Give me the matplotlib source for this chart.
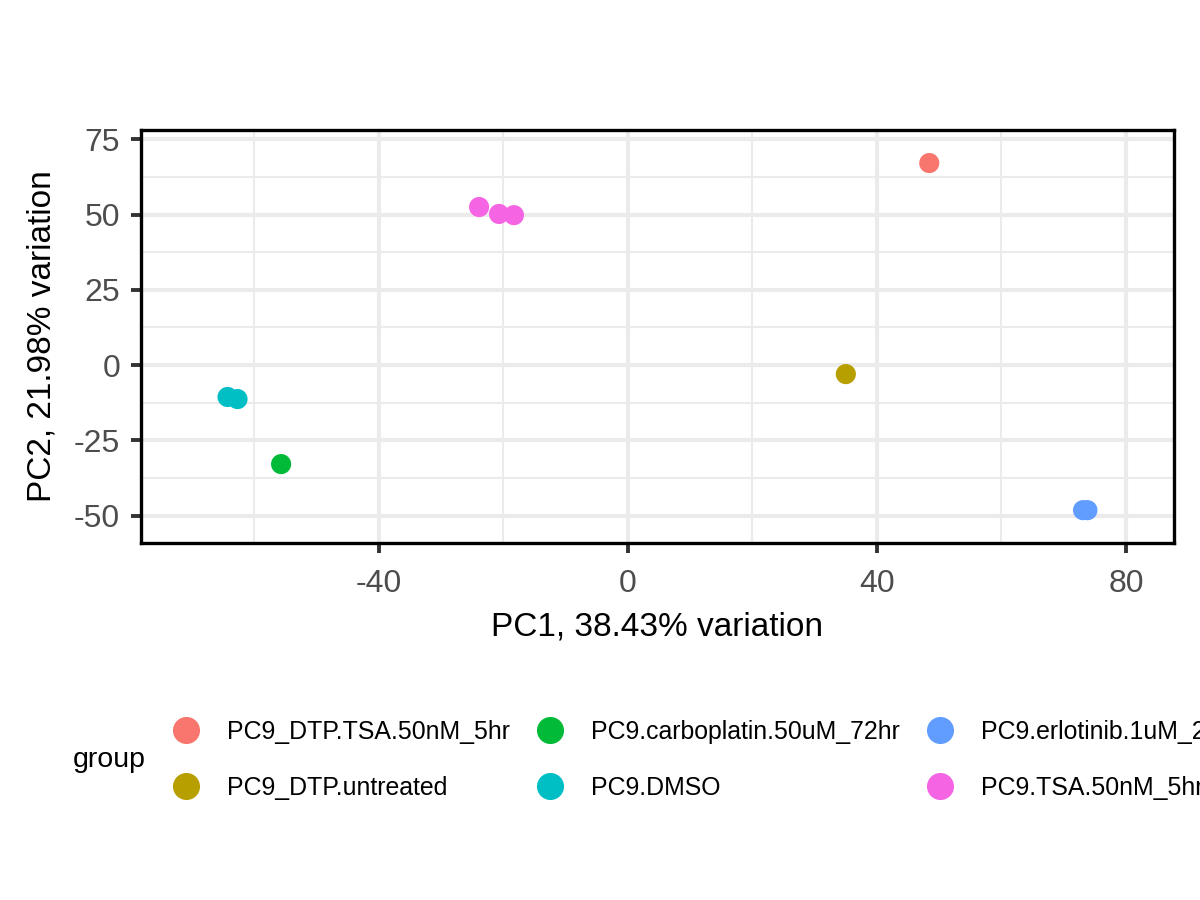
import matplotlib
matplotlib.use("Agg")
import matplotlib.pyplot as plt
from matplotlib.lines import Line2D
from matplotlib.ticker import MultipleLocator

plt.rcParams['font.family'] = ['Liberation Sans', 'DejaVu Sans']
plt.rcParams['axes.unicode_minus'] = False

# PCA scores
groups = ['PC9_DTP.TSA.50nM_5hr', 'PC9_DTP.untreated', 'PC9.carboplatin.50uM_72hr',
          'PC9.DMSO', 'PC9.erlotinib.1uM_24hr', 'PC9.TSA.50nM_5hr']
colors = ['#F8766D', '#B79F00', '#00BA38', '#00BFC4', '#619CFF', '#F564E3']
pc1 = [[48.4], [35.0], [-55.7], [-64.3, -62.7], [73.1, 73.8], [-23.9, -20.7, -18.3]]
pc2 = [[67.1], [-3.0], [-32.9], [-10.6, -11.3], [-48.2, -48.2], [52.5, 50.2, 49.8]]

fig = plt.figure(figsize=(12, 9), dpi=100)
ax = fig.add_axes([0.1175, 0.3967, 0.8608, 0.4589])

for g, c, xs, ys in zip(groups, colors, pc1, pc2):
    ax.scatter(xs, ys, s=210, color=c, edgecolors='none', zorder=3)

ax.set_xlim(-78.2, 87.7)
ax.set_ylim(-59.1, 78.1)
ax.xaxis.set_major_locator(MultipleLocator(40))
ax.xaxis.set_minor_locator(MultipleLocator(20))
ax.yaxis.set_major_locator(MultipleLocator(25))
ax.yaxis.set_minor_locator(MultipleLocator(12.5))
ax.grid(which='major', color='#EBEBEB', lw=3.0, zorder=0)
ax.grid(which='minor', color='#EBEBEB', lw=1.5, zorder=0)
ax.set_axisbelow(True)
for sp in ax.spines.values():
    sp.set_linewidth(2.4)
    sp.set_color('black')
ax.tick_params(which='major', length=7, width=2.8, color='#333333',
               labelsize=23, labelcolor='#4D4D4D')
ax.tick_params(axis='x', which='major', pad=12)
ax.tick_params(axis='y', which='major', pad=8)
ax.tick_params(which='minor', length=0)

ax.set_xlabel('PC1, 38.43% variation', fontsize=24, labelpad=8.5)
ax.set_ylabel('PC2, 21.98% variation', fontsize=24, labelpad=11.5)

# legend sits under the plot and runs past the right edge, as in the reference
handles = [Line2D([], [], marker='o', ls='none', markersize=19.5,
                  markerfacecolor=c, markeredgecolor='none') for c in colors]
fig.legend(handles, groups, ncol=3, loc='center left',
           bbox_to_anchor=(0.1404, 0.1556), frameon=False, fontsize=17.9,
           handletextpad=0.94, columnspacing=0.93, labelspacing=1.28,
           borderaxespad=0, borderpad=0, handlelength=1.4)
fig.text(0.061, 0.1556, 'group', fontsize=20.5, va='center', ha='left')

fig.savefig('out.png', dpi=100)
